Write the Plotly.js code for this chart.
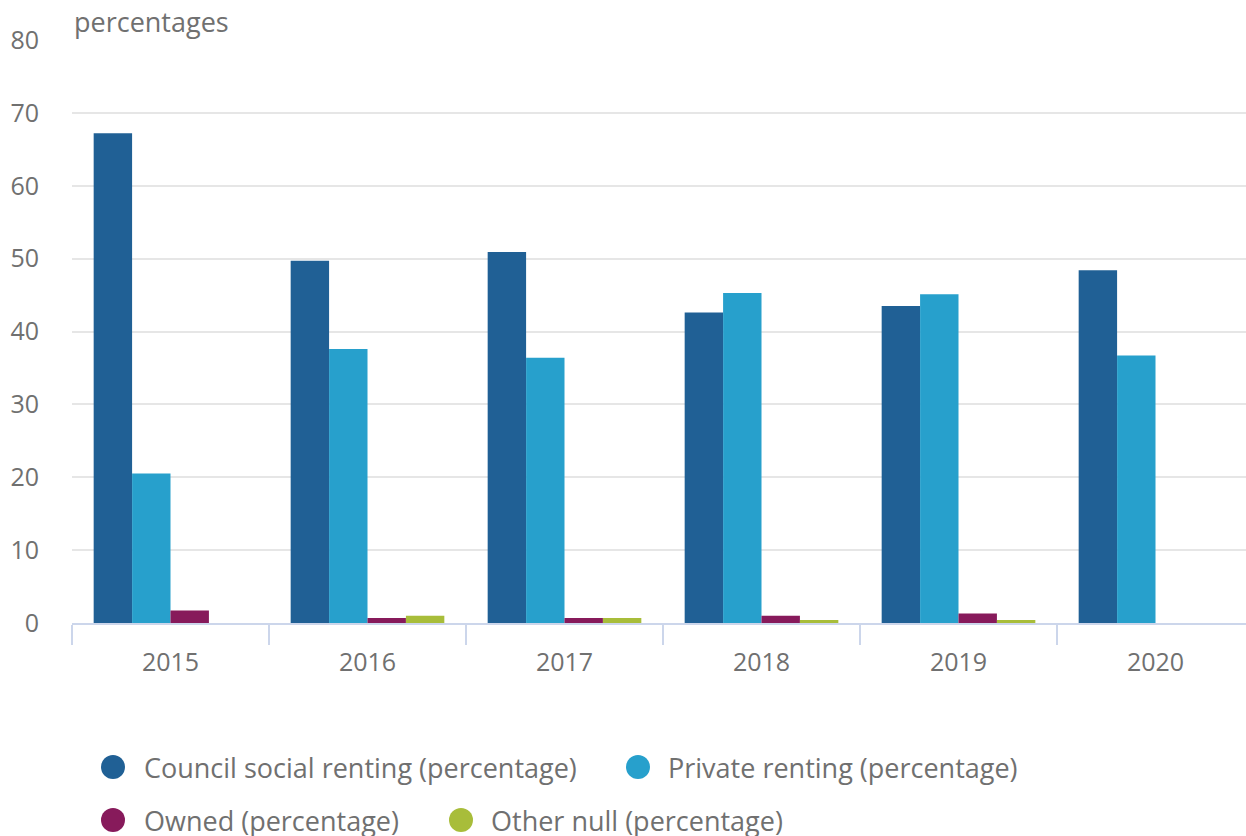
<!DOCTYPE html>
<html>
<head>
<meta charset="utf-8">
<script src="https://cdn.plot.ly/plotly-3.0.1.min.js"></script>
<style>
html,body{margin:0;padding:0;overflow:hidden;background:#fff;}
#chart{width:1260px;height:836px;}
</style>
</head>
<body>
<div id="chart"></div>
<script>
var years = ['2015','2016','2017','2018','2019','2020'];
var councilSocial = [67.2, 49.7, 50.9, 42.6, 43.5, 48.4];
var privateRenting = [20.5, 37.6, 36.4, 45.3, 45.1, 36.7];
var owned = [1.7, 0.7, 0.7, 1.0, 1.3, null];
var otherNull = [null, 1.0, 0.7, 0.4, 0.4, null];
var seriesNames = ['Council social renting (percentage)', 'Private renting (percentage)', 'Owned (percentage)', 'Other null (percentage)'];
var seriesColors = ['#206095', '#27a0cc', '#871a5b', '#a8bd3a'];
var seriesValues = [councilSocial, privateRenting, owned, otherNull];
var yTicks = [0,10,20,30,40,50,60,70,80];

var traces = seriesValues.map(function(vals, i){
  return {type:'bar', x: years, y: vals, name: seriesNames[i],
    marker:{color: seriesColors[i]}, showlegend:false, hoverinfo:'x+y+name'};
});

var W = 1260, H = 836, ml = 72, mr = 6, mt = 40, mb = 213;
var pw = W - ml - mr, ph = H - mt - mb;
function px(x){ return (x - ml)/pw; }
function py(y){ return (H - mb - y)/ph; }

var legendItems = [
  {cx:113, cy:767, tx:142},
  {cx:638, cy:767, tx:666},
  {cx:113, cy:820, tx:142},
  {cx:461, cy:820, tx:489}
];
var shapes = [], annotations = [];
legendItems.forEach(function(it, i){
  shapes.push({type:'circle', xref:'paper', yref:'paper', xsizemode:'pixel', ysizemode:'pixel',
    xanchor:px(it.cx), yanchor:py(it.cy), x0:-12, x1:12, y0:-12, y1:12,
    fillcolor:seriesColors[i], line:{width:0}});
  annotations.push({xref:'paper', yref:'paper', x:px(it.tx), y:py(it.cy), xanchor:'left', yanchor:'middle',
    showarrow:false, text:seriesNames[i], font:{family:'Open Sans', size:27, color:'#707070'}});
});
annotations.push({xref:'paper', yref:'paper', x:px(72), y:py(22), xanchor:'left', yanchor:'middle',
  showarrow:false, text:'percentages', font:{family:'Open Sans', size:27, color:'#707070'}});

var layout = {
  width: W, height: H,
  margin:{l:ml, r:mr, t:mt, b:mb, pad:0},
  paper_bgcolor:'#fff', plot_bgcolor:'#fff',
  font:{family:'Open Sans', color:'#707070', size:25},
  barmode:'group', bargap:0.22, bargroupgap:0,
  showlegend:false,
  xaxis:{type:'category', tickson:'boundaries', ticks:'outside', ticklen:20, tickwidth:2, tickcolor:'#ccd6eb',
    showline:true, linecolor:'#ccd6eb', linewidth:2, showgrid:false, zeroline:false, ticklabelstandoff:16,
    tickfont:{family:'Open Sans', size:25, color:'#707070'}, fixedrange:true},
  yaxis:{range:[0,80], tickvals:yTicks, ticktext:yTicks.map(String), showgrid:true, gridcolor:'#e6e6e6', gridwidth:2,
    zeroline:false, showline:false, ticks:'', ticklabelstandoff:32,
    tickfont:{family:'Open Sans', size:25, color:'#707070'}, fixedrange:true},
  shapes: shapes,
  annotations: annotations
};
Plotly.newPlot('chart', traces, layout, {displayModeBar:false, staticPlot:true});
</script>
</body>
</html>
